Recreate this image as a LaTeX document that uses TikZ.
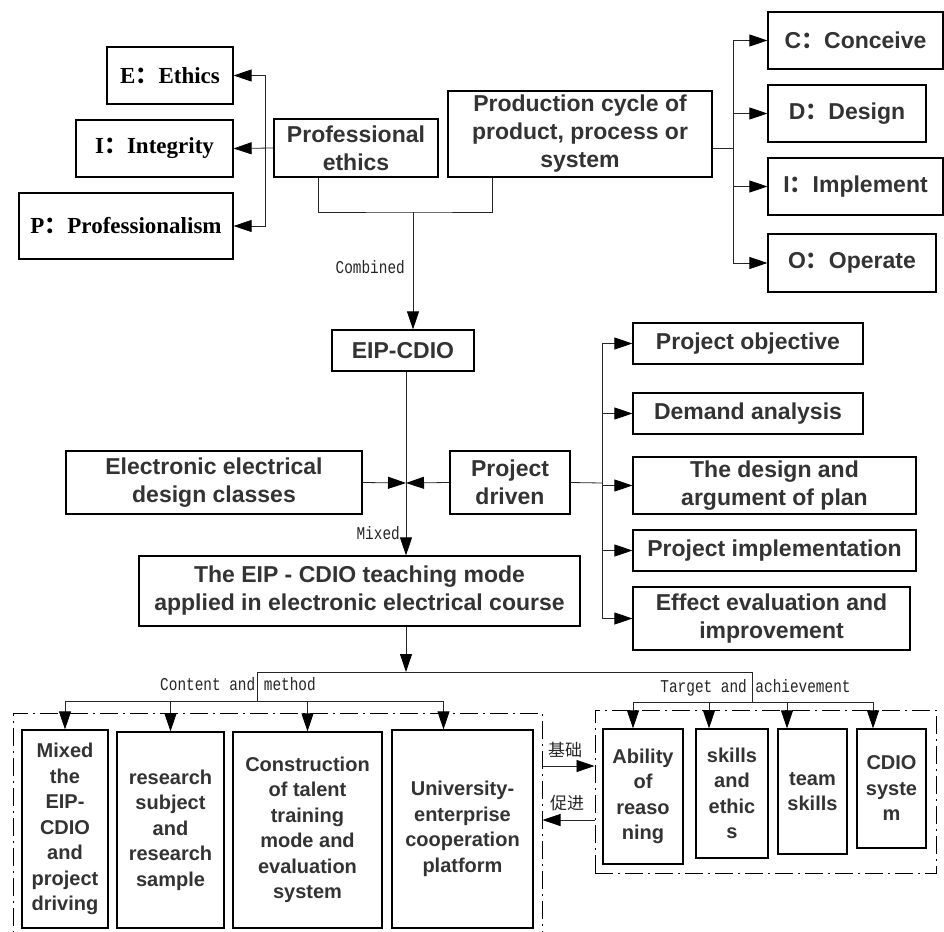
\documentclass[tikz,border=0pt]{standalone}
\usepackage{fontspec}
\setmainfont{Liberation Sans}
\newfontfamily\serifbf{Liberation Serif}
\newfontfamily\cjk{Noto Sans CJK SC}
\newfontfamily\lblfont[FakeStretch=0.8]{Liberation Mono}
\usetikzlibrary{arrows.meta, positioning}

\begin{document}
\begin{tikzpicture}[
        x=1pt, y=-1pt,
        box/.style={rectangle, draw=black, line width=1.2pt, align=center, inner sep=0pt, text=black!80, font=\fontsize{23}{28}\selectfont\bfseries},
        ebox/.style={box, text=black, font=\serifbf\fontsize{23}{28}\selectfont\bfseries},
        cbox/.style={box, font=\fontsize{20}{25.5}\selectfont\bfseries},
        grp/.style={rectangle, draw=black, line width=1pt, dash pattern=on 18pt off 5pt on 2pt off 5pt},
        lbl/.style={font=\lblfont\fontsize{18}{20}\selectfont, text=black!85, inner sep=0pt},
        zh/.style={font=\cjk\fontsize{17}{19}\selectfont, text=black!85, inner sep=0pt},
        line/.style={draw=black!85, line width=0.8pt},
        arrow/.style={line, -{Triangle[length=18pt, width=12pt, black]}},
        ]
        \clip (0,0) rectangle (944,931);
        \fill[white] (0,0) rectangle (944,931);

        % EIP boxes (top left)
        \node[ebox, minimum width=126pt, minimum height=57pt] (ethE) at (170,75.5) {E{\cjk ：}Ethics};
        \node[ebox, minimum width=157pt, minimum height=57pt] (ethI) at (154.5,148.5) {I{\cjk ：}Integrity};
        \node[ebox, minimum width=214pt, minimum height=66pt] (ethP) at (126,226) {P{\cjk ：}Professionalism};

        % the two sources
        \node[box, minimum width=164pt, minimum height=58pt] (prof) at (356,148) {Professional\\ethics};
        \node[box, minimum width=264pt, minimum height=86pt] (prod) at (580,134) {Production cycle of\\product, process or\\system};

        % CDIO boxes (top right)
        \node[box, minimum width=175pt, minimum height=57pt] (cC) at (855.5,40.5) {C{\cjk ：}Conceive};
        \node[box, minimum width=158pt, minimum height=57pt] (cD) at (847,113.5) {D{\cjk ：}Design};
        \node[box, minimum width=175pt, minimum height=57pt] (cI) at (855.5,186.5) {I{\cjk ：}Implement};
        \node[box, minimum width=168pt, minimum height=58pt] (cO) at (852,263) {O{\cjk ：}Operate};

        % middle part
        \node[box, minimum width=142pt, minimum height=41pt] (eip) at (403,350.5) {EIP-CDIO};
        \node[box, minimum width=296pt, minimum height=63pt] (elec) at (214,482.5) {Electronic electrical\\design classes};
        \node[box, minimum width=120pt, minimum height=63pt] (drive) at (510,482.5) {Project\\driven};
        \node[box, minimum width=441pt, minimum height=70pt] (mode) at (359.5,591) {The EIP - CDIO teaching mode\\applied in electronic electrical course};

        % project steps
        \node[box, minimum width=230pt, minimum height=41pt] (pObj) at (748,343.5) {Project objective};
        \node[box, minimum width=230pt, minimum height=41pt] (pDem) at (748,413.5) {Demand analysis};
        \node[box, minimum width=283pt, minimum height=57pt] (pDes) at (774.5,485.5) {The design and\\argument of plan};
        \node[box, minimum width=283pt, minimum height=41pt] (pImp) at (774.5,550.5) {Project implementation};
        \node[box, minimum width=277pt, minimum height=63pt] (pEff) at (771.5,618.5) {Effect evaluation and\\improvement};

        % groups
        \node[grp, minimum width=529pt, minimum height=247pt] (lgrp) at (277.5,836.5) {};
        \node[grp, minimum width=341pt, minimum height=163pt] (rgrp) at (765.5,791.5) {};

        % content and method
        \node[cbox, minimum width=86pt, minimum height=198pt] (c1) at (65,829) {Mixed\\the\\EIP-\\CDIO\\and\\project\\driving};
        \node[cbox, minimum width=107pt, minimum height=196pt] (c2) at (170.5,830) {research\\subject\\and\\research\\sample};
        \node[cbox, minimum width=149pt, minimum height=196pt] (c3) at (307.5,830) {Construction\\of talent\\training\\mode and\\evaluation\\system};
        \node[cbox, minimum width=141pt, minimum height=198pt] (c4) at (462.5,829) {University-\\enterprise\\cooperation\\platform};

        % target and achievement
        \node[cbox, minimum width=80pt, minimum height=135pt] (t1) at (643,796.5) {Ability\\of\\reaso\\ning};
        \node[cbox, minimum width=72pt, minimum height=129pt] (t2) at (732,793.5) {skills\\and\\ethic\\s};
        \node[cbox, minimum width=69pt, minimum height=125pt] (t3) at (812.5,791.5) {team\\skills};
        \node[cbox, minimum width=69pt, minimum height=119pt] (t4) at (891.5,788.5) {CDIO\\syste\\m};

        % junctions
        \coordinate (ej) at (265,148);
        \coordinate (cj) at (733,148);
        \coordinate (comb) at (413,212);
        \coordinate (mix) at (406,483);
        \coordinate (pj) at (602,483);
        \coordinate (split) at (406,672);
        \coordinate (cmL) at (257,672);
        \coordinate (cmJ) at (257,701);
        \coordinate (taR) at (752,672);
        \coordinate (taJ) at (752,702);
        \coordinate (ta1) at (633,702);
        \coordinate (ta2) at (709,702);
        \coordinate (ta3) at (787,702);
        \coordinate (ta4) at (873,702);
        \coordinate (base) at (0,766);
        \coordinate (prom) at (0,820);

        % professional ethics -> E, I, P
        \draw[arrow] (prof.west) -- (ethI.east);
        \draw[arrow] (ej) |- (ethE.east);
        \draw[arrow] (ej) |- (ethP.east);

        % production cycle -> C, D, I, O
        \draw[line] (prod.east |- cj) -- (cj);
        \draw[line] (cj |- cC.west) -- (cj |- cO.west);
        \foreach \n in {cC,cD,cI,cO}
            \draw[arrow] (cj |- \n.west) -- (\n.west);

        % combined
        \draw[line] ([xshift=-38pt]prof.south) |- (comb) -| ([xshift=-88pt]prod.south);
        \draw[arrow] (comb) -- (comb |- eip.north);
        \node[lbl, anchor=east] (tComb) at (405,267) {Combined};

        % mixed
        \draw[line] (eip.south -| mix) -- (mix);
        \draw[arrow] (elec.east) -- (mix);
        \draw[arrow] (drive.west) -- (mix);
        \draw[arrow] (mix) -- (mix |- mode.north);
        \node[lbl, anchor=east] (tMix) at (400,533) {Mixed};

        % project driven -> steps
        \draw[line] (drive.east) -- (pj);
        \draw[line] (pj |- pObj.west) -- (pj |- pEff.west);
        \foreach \n in {pObj,pDem,pDes,pImp,pEff}
            \draw[arrow] (pj |- \n.west) -- (\n.west);

        % split into the two groups
        \draw[arrow] (mode.south -| split) -- (split);
        \draw[line] (cmJ) -- (cmL) -- (taR) -- (taJ);
        \draw[line] (c1.north |- cmJ) -- ([xshift=-19pt]c4.north |- cmJ);
        \foreach \n in {c1,c2,c3}
            \draw[arrow] (\n.north |- cmJ) -- (\n.north);
        \draw[arrow] ([xshift=-19pt]c4.north |- cmJ) -- ([xshift=-19pt]c4.north);
        \draw[line] (ta1) -- (ta4);
        \draw[arrow] (ta1) -- (ta1 |- t1.north);
        \draw[arrow] (ta2) -- (ta2 |- t2.north);
        \draw[arrow] (ta3) -- (ta3 |- t3.north);
        \draw[arrow] (ta4) -- (ta4 |- t4.north);
        \node[lbl] (tCont) at (238,684) {Content and method};
        \node[lbl] (tTarg) at (755.5,688) {Target and achievement};

        % basis and promotion
        \draw[arrow] (lgrp.east |- base) -- (rgrp.west |- base);
        \draw[arrow] (rgrp.west |- prom) -- (lgrp.east |- prom);
        \node[zh] (tBase) at (565,750) {基础};
        \node[zh] (tProm) at (567,803) {促进};

    \end{tikzpicture}
\end{document}
